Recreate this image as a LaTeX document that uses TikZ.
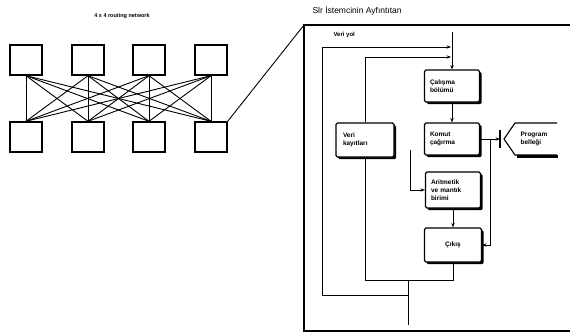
\documentclass[tikz,border=0pt]{standalone}
\usepackage{fontspec}
\setmainfont{Liberation Sans}
\usetikzlibrary{arrows.meta,positioning,shadows,calc}
\begin{document}
\begin{tikzpicture}[x=1pt,y=-1pt,
  sw/.style={draw, line width=1.4pt, minimum width=32pt, minimum height=30pt, inner sep=0pt},
  link/.style={line width=0.9pt},
  unit/.style={draw, line width=1.1pt, rounded corners=1.5pt, fill=white,
    minimum width=55pt, minimum height=32pt, text width=44pt, align=left, inner sep=2pt,
    font=\fontsize{6.5}{8}\selectfont\bfseries,
    drop shadow={opacity=1, fill=black, shadow xshift=2.2pt, shadow yshift=-2.2pt}},
  wire/.style={line width=1pt},
  flow/.style={line width=1pt, -{Stealth[length=4.5pt]}}
]
\useasboundingbox (0,0) rectangle (570,333);

% routing network
\node[font=\fontsize{5.5}{6}\selectfont\bfseries] (nettitle) at (122,16) {4 x 4 routing network};
\foreach \x [count=\i] in {26,88,149,211} {
  \node[sw] (t\i) at (\x,60) {};
  \node[sw] (b\i) at (\x,137) {};
}
\foreach \i in {1,...,4}
  \foreach \j in {1,...,4}
    \draw[link] (t\i.south) -- (b\j.north);

% detail panel
\coordinate (pnw) at (304,25);
\coordinate (psw) at (304,331);
\draw[line width=1.4pt] (570,25) -- (pnw) -- (psw) -- (570,331);
\draw[link] (b4.north east) -- (pnw);
\node[font=\fontsize{8.5}{10}\selectfont, anchor=west] (cputitle) at (309,11) {Slr İstemcinin Ayfıntıtan};
\node[font=\fontsize{6}{7}\selectfont\bfseries, anchor=west] (buslbl) at (330,35) {Veri yol};

\node[unit] (calisma) at (452,86) {Çalışma\\bölümü};
\node[unit] (komut) at (452,139) {Komut\\çağırma};
\node[unit, minimum width=58pt, minimum height=34pt] (veri) at (365,140) {Veri\\kayıtları};
\node[unit, minimum height=36pt] (alu) at (453,190) {Aritmetik\\ve mantık\\birimi};
\node[unit, minimum width=57pt, minimum height=34pt, align=center] (cikis) at (453,245) {Çıkış};

% program memory
\node[font=\fontsize{6.5}{8}\selectfont\bfseries, align=left] (prog) at (534,139) {Program\\belleği};
\draw[line width=2.4pt] (517,156.5) -- (558,156.5);
\draw[line width=1.1pt] (557,123) -- (515,123) -- (504,139) -- (515,155) -- (557,155);

% bus and loops
\coordinate (bustop) at (452,32);
\coordinate (busA) at (451,47);
\coordinate (busB) at (451,57);
\coordinate (j3) at (408,280);
\coordinate (j4) at (408,325);
\coordinate (j2) at (408,295);
\coordinate (bar) at (500,139);
\coordinate (tap) at (490,139);
\coordinate (aluin) at (410,150);

\draw[flow] (bustop) -- (calisma.north);
\draw[flow] (j2) -| (322,47) -- (busA);
\draw[wire] (cikis.south) |- (veri.south |- j3) -- (veri.south);
\draw[flow] (veri.north) |- (busB);
\draw[wire] (j3) -- (j4);

\draw[flow] (calisma) -- (komut);
\draw[flow] (alu) -- (cikis);
\draw[flow] (komut.east) -- (bar);
\draw[line width=1.2pt] (500,130) -- (500,148);
\draw[flow] (tap) |- (cikis.east);
\draw[flow] (aluin) |- (alu.west);
\end{tikzpicture}
\end{document}
